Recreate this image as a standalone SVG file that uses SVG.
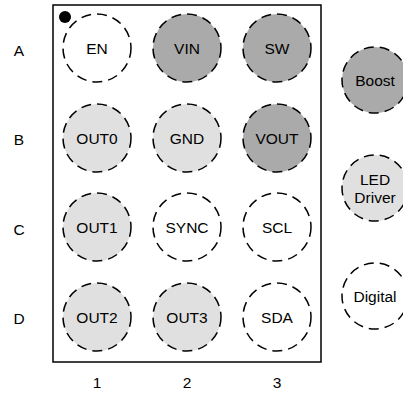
<svg xmlns="http://www.w3.org/2000/svg" width="403" height="398" viewBox="0 0 403 398">
<style>
.p{stroke:#000;stroke-width:1.5;stroke-dasharray:10 6}
.w{fill:#fff}.d{fill:#aaaaaa}.l{fill:#e0e0e0}
text{font-family:"Liberation Sans",Arial,sans-serif;font-size:15.5px;fill:#000;text-anchor:middle;dominant-baseline:central}
</style>
<rect x="53" y="5" width="268" height="357" fill="#fff" stroke="#000" stroke-width="1.5"/>
<circle cx="65" cy="17" r="6" fill="#000"/>
<g id="A1"><circle class="p w" cx="97" cy="48" r="34"/><text x="97" y="48">EN</text></g>
<g id="A2"><circle class="p d" cx="187" cy="48" r="34"/><text x="187" y="48">VIN</text></g>
<g id="A3"><circle class="p d" cx="277" cy="48" r="34"/><text x="277" y="48">SW</text></g>
<g id="B1"><circle class="p l" cx="97" cy="138" r="34"/><text x="97" y="138">OUT0</text></g>
<g id="B2"><circle class="p l" cx="187" cy="138" r="34"/><text x="187" y="138">GND</text></g>
<g id="B3"><circle class="p d" cx="277" cy="138" r="34"/><text x="277" y="138">VOUT</text></g>
<g id="C1"><circle class="p l" cx="97" cy="227" r="34"/><text x="97" y="227">OUT1</text></g>
<g id="C2"><circle class="p w" cx="187" cy="227" r="34"/><text x="187" y="227">SYNC</text></g>
<g id="C3"><circle class="p w" cx="277" cy="227" r="34"/><text x="277" y="227">SCL</text></g>
<g id="D1"><circle class="p l" cx="97" cy="317" r="34"/><text x="97" y="317">OUT2</text></g>
<g id="D2"><circle class="p l" cx="187" cy="317" r="34"/><text x="187" y="317">OUT3</text></g>
<g id="D3"><circle class="p w" cx="277" cy="317" r="34"/><text x="277" y="317">SDA</text></g>
<g id="legend-boost"><circle class="p d" cx="375" cy="80" r="33"/><text x="375" y="80">Boost</text></g>
<g id="legend-led"><circle class="p l" cx="375" cy="188" r="33"/><text x="375" y="179">LED</text><text x="375" y="197">Driver</text></g>
<g id="legend-digital"><circle class="p w" cx="375" cy="296" r="33"/><text x="375" y="296">Digital</text></g>
<g id="labels">
<text x="19" y="50">A</text><text x="19" y="139">B</text><text x="19" y="229">C</text><text x="19" y="318">D</text>
<text x="97" y="382">1</text><text x="187" y="382">2</text><text x="277" y="382">3</text>
</g>
<g id="connectors"/>
</svg>
